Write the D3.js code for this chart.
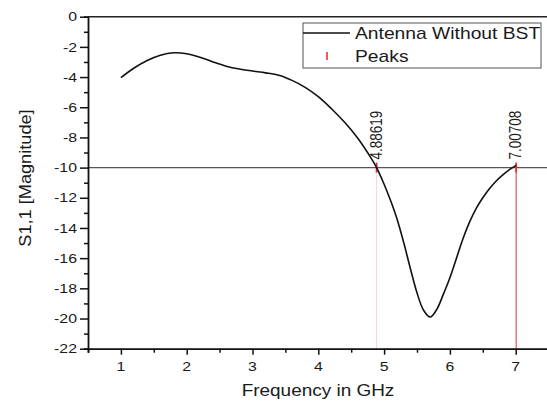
<!DOCTYPE html>
<html><head><meta charset="utf-8">
<script src="https://cdn.jsdelivr.net/npm/d3@7"></script>
<style>body{margin:0;background:#fff;} text{font-family:"Liberation Sans",Arial,sans-serif;fill:#1a1a1a;}</style>
</head><body>
<svg id="c" width="547" height="401"></svg>
<script>
const freq = [1.0,1.2,1.4,1.6,1.8,2.0,2.2,2.4,2.6,2.8,3.0,3.2,3.4,3.6,3.8,4.0,4.2,4.4,4.6,4.8,4.886,5.0,5.1,5.2,5.3,5.4,5.5,5.6,5.7,5.8,5.9,6.0,6.1,6.2,6.3,6.4,6.5,6.6,6.7,6.8,6.9,7.007];
const s11  = [-4.04,-3.4,-2.9,-2.55,-2.39,-2.45,-2.68,-3.0,-3.28,-3.47,-3.6,-3.72,-3.88,-4.22,-4.68,-5.3,-6.1,-7.0,-8.05,-9.35,-10.0,-11.1,-12.2,-13.45,-15.0,-16.7,-18.3,-19.45,-19.9,-19.4,-18.4,-17.3,-16.0,-14.7,-13.6,-12.7,-12.0,-11.4,-10.9,-10.5,-10.15,-9.85];
const peakX = [4.88619, 7.00708];
const peakY = [-10, -10];
const peakLabels = ["4.88619","7.00708"];
const xTicks = [1,2,3,4,5,6,7];
const yTicks = [0,-2,-4,-6,-8,-10,-12,-14,-16,-18,-20,-22];
const seriesName = "Antenna Without BST";
const peaksName = "Peaks";

const svg = d3.select("#c");
const x = d3.scaleLinear().domain([0.5,7.5]).range([88,548.6]);
const y = d3.scaleLinear().domain([0,-22]).range([16.7,348.7]);

// -10 reference line
svg.append("line").attr("x1",88).attr("x2",547).attr("y1",y(-10)).attr("y2",y(-10))
  .attr("stroke","#555").attr("stroke-width",1.2);

// peak drop lines
svg.append("line").attr("x1",x(peakX[0])).attr("x2",x(peakX[0])).attr("y1",y(peakY[0])).attr("y2",y(-22))
  .attr("stroke","#f3d6d6").attr("stroke-width",1);
svg.append("line").attr("x1",x(peakX[1])).attr("x2",x(peakX[1])).attr("y1",y(peakY[1])).attr("y2",y(-22))
  .attr("stroke","#d85a5a").attr("stroke-width",1.2);
peakX.forEach((p,i)=>{
  svg.append("line").attr("x1",x(p)).attr("x2",x(p)).attr("y1",y(peakY[i])-5).attr("y2",y(peakY[i])+5)
    .attr("stroke","#e03030").attr("stroke-width",1.8);
});

// curve
const line = d3.line().x((d,i)=>x(freq[i])).y((d,i)=>y(s11[i])).curve(d3.curveCatmullRom.alpha(0.5));
svg.append("path").attr("d",line(freq)).attr("fill","none").attr("stroke","#111").attr("stroke-width",1.6);

// peak labels
peakX.forEach((p,i)=>{
  svg.append("text").attr("transform",`translate(${x(p)+5},${y(peakY[i])-8}) rotate(-90) scale(1,1.18)`)
    .attr("font-size",13.5).text(peakLabels[i]);
});

// axes
const xAxis = svg.append("g").attr("transform",`translate(0,${y(-22)})`);
xAxis.call(d3.axisBottom(x).tickValues(d3.range(0.5,7.51,0.5)).tickSize(4).tickFormat(""));
xAxis.selectAll(".tick line").attr("stroke","#111").attr("stroke-width",1.5)
   .attr("y2",d=>Number.isInteger(d)?6:4);
xAxis.select(".domain").attr("stroke","#111").attr("stroke-width",1.8);
xTicks.forEach(t=>{
  xAxis.append("text").attr("transform",`translate(${x(t)},22) scale(1.22,1)`).attr("text-anchor","middle")
    .attr("font-size",13).text(t);
});

const yAxis = svg.append("g").attr("transform","translate(88,0)");
yAxis.call(d3.axisLeft(y).tickValues(d3.range(0,-22.5,-1)).tickSize(4).tickFormat(""));
yAxis.selectAll(".tick line").attr("stroke","#111").attr("stroke-width",1.5)
   .attr("x2",d=>(Math.round(d)%2===0)?-8:-4);
yAxis.select(".domain").attr("stroke","#111").attr("stroke-width",1.8);
yTicks.forEach(t=>{
  yAxis.append("text").attr("transform",`translate(-11,${y(t)+4.7}) scale(1.22,1)`).attr("text-anchor","end")
    .attr("font-size",13).text(t);
});

// top frame
svg.append("line").attr("x1",88).attr("x2",547).attr("y1",y(0)).attr("y2",y(0)).attr("stroke","#222").attr("stroke-width",1.5);

// axis titles
svg.append("text").attr("transform","translate(318,396) scale(1.2,1)").attr("text-anchor","middle")
  .attr("font-size",15.8).text("Frequency in GHz");
svg.append("text").attr("transform","translate(31,178) rotate(-90) scale(1.15,1)").attr("text-anchor","middle")
  .attr("font-size",15.8).text("S1,1 [Magnitude]");

// legend
const lg = svg.append("g");
lg.append("rect").attr("x",303).attr("y",23).attr("width",238).attr("height",45)
  .attr("fill","#fff").attr("stroke","#555").attr("stroke-width",1);
lg.append("line").attr("x1",303).attr("x2",350).attr("y1",33).attr("y2",33).attr("stroke","#111").attr("stroke-width",1.5);
lg.append("line").attr("x1",327).attr("x2",327).attr("y1",52).attr("y2",60).attr("stroke","#e06060").attr("stroke-width",2);
lg.append("text").attr("transform","translate(355,39) scale(1.22,1)").attr("font-size",15.8).text(seriesName);
lg.append("text").attr("transform","translate(355,62) scale(1.22,1)").attr("font-size",15.8).text(peaksName);
</script>
</body></html>
